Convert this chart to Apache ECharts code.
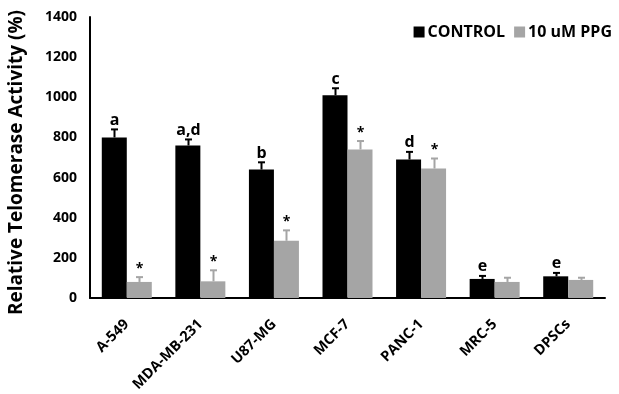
<!DOCTYPE html>
<html>
<head>
<meta charset="utf-8">
<script src="https://cdn.jsdelivr.net/npm/echarts@6/dist/echarts.min.js"></script>
<style>
  html, body { margin: 0; padding: 0; background: #fff; }
  #chart { width: 619px; height: 394px; }
</style>
</head>
<body>
<div id="chart"></div>
<script>
// Relative telomerase activity per cell line, control vs 10 uM PPG
const cellLines = ['A-549', 'MDA-MB-231', 'U87-MG', 'MCF-7', 'PANC-1', 'MRC-5', 'DPSCs'];
const controlValues = [800, 760, 640, 1010, 690, 95, 108];
const controlErrors = [40, 30, 36, 35, 38, 15, 17];
const controlMarks = ['a', 'a,d', 'b', 'c', 'd', 'e', 'e'];
const ppgValues = [80, 83, 285, 740, 645, 80, 90];
const ppgErrors = [24, 55, 52, 42, 50, 21, 11];
const ppgMarks = ['*', '*', '*', '*', '*', '', ''];
const yTicks = { min: 0, max: 1400, step: 200 };

const FONT = '"Open Sans", "DejaVu Sans", sans-serif';
const BAR_W = 25;
const CONTROL_COLOR = '#000000';
const PPG_COLOR = '#a5a5a5';

// Upward error bar with cap, plus significance mark above it
function errorSeries(name, values, errors, marks, color, side, markFont) {
  return {
    type: 'custom',
    name: name + ' err',
    z: 5,
    silent: true,
    data: values.map((v, i) => [i, v, v + errors[i], marks[i]]),
    renderItem: function (params, api) {
      const idx = api.value(0);
      const base = api.coord([idx, api.value(1)]);
      const top = api.coord([idx, api.value(2)]);
      const x = Math.round(base[0] + side * BAR_W / 2) + 0.5;
      const cap = 3.5;
      return {
        type: 'group',
        children: [
          { type: 'line', shape: { x1: x, y1: base[1], x2: x, y2: top[1] },
            style: { stroke: color, lineWidth: 2 } },
          { type: 'line', shape: { x1: x - cap, y1: top[1], x2: x + cap, y2: top[1] },
            style: { stroke: color, lineWidth: 2 } },
          { type: 'text', x: x, y: top[1] - 1,
            style: { text: api.value(3), fill: '#000', font: markFont,
                     align: 'center', verticalAlign: 'bottom' } }
        ]
      };
    }
  };
}

const chart = echarts.init(document.getElementById('chart'));
chart.setOption({
  animation: false,
  backgroundColor: '#fff',
  grid: { left: 90, right: 14, top: 17, bottom: 96, containLabel: false, outerBoundsMode: 'none' },
  legend: {
    right: 2, top: 19,
    itemWidth: 11, itemHeight: 11, itemGap: 9,
    icon: 'rect',
    data: ['CONTROL', '10 uM PPG'],
    textStyle: { fontFamily: FONT, fontWeight: 'bold', fontSize: 16, color: '#000', padding: [0, 0, 0, -2] }
  },
  xAxis: {
    type: 'category',
    data: cellLines,
    axisLine: { lineStyle: { color: '#000', width: 2 } },
    axisTick: { show: false },
    axisLabel: { rotate: 45, margin: 24, color: '#000', fontFamily: FONT, fontWeight: 'bold', fontSize: 14.5, interval: 0 }
  },
  yAxis: {
    type: 'value',
    min: yTicks.min, max: yTicks.max, interval: yTicks.step,
    name: 'Relative Telomerase Activity (%)',
    nameLocation: 'middle',
    nameGap: 64,
    nameTextStyle: { fontFamily: FONT, fontWeight: 'bold', fontSize: 19, color: '#000', padding: [0, 10, 0, 0] },
    axisLine: { show: true, lineStyle: { color: '#000', width: 2 } },
    axisTick: { show: false },
    splitLine: { show: false },
    axisLabel: { margin: 13, color: '#000', fontFamily: FONT, fontWeight: 'bold', fontSize: 14,
                 formatter: function (v) { return String(v); } }
  },
  series: [
    { type: 'bar', name: 'CONTROL', data: controlValues, barWidth: BAR_W, barGap: '0%',
      itemStyle: { color: CONTROL_COLOR } },
    { type: 'bar', name: '10 uM PPG', data: ppgValues, barWidth: BAR_W, barGap: '0%',
      itemStyle: { color: PPG_COLOR } },
    errorSeries('CONTROL', controlValues, controlErrors, controlMarks, CONTROL_COLOR, -1, 'bold 16px ' + FONT),
    errorSeries('10 uM PPG', ppgValues, ppgErrors, ppgMarks, PPG_COLOR, 1, 'bold 14px ' + FONT)
  ]
});
</script>
</body>
</html>
